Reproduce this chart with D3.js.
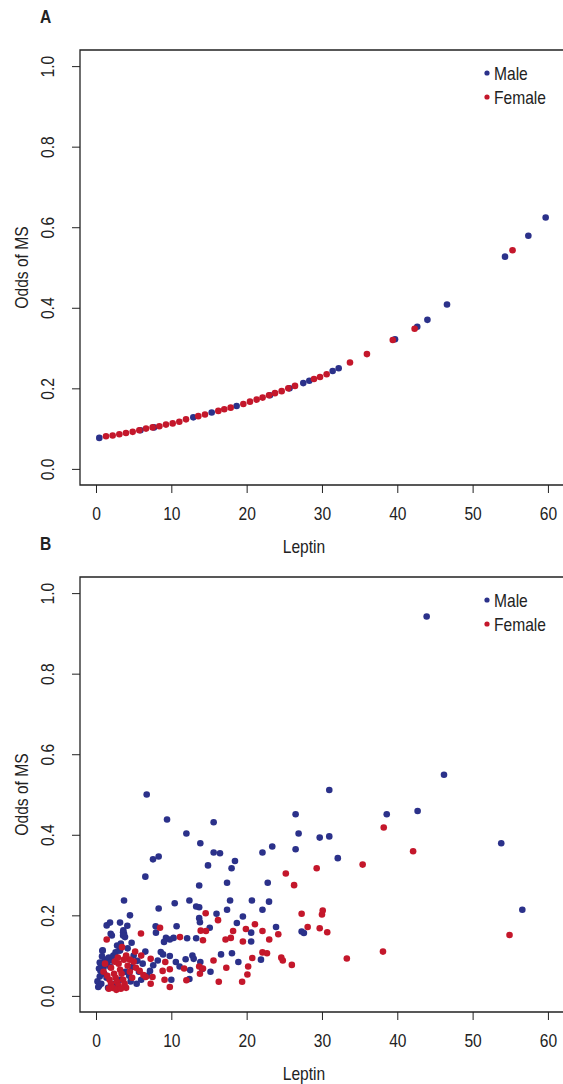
<!DOCTYPE html>
<html>
<head>
<meta charset="utf-8">
<script src="https://cdn.jsdelivr.net/npm/d3@7"></script>
<style>
  html, body { margin: 0; padding: 0; background: #fff; }
  svg { display: block; }
  text { font-family: "Liberation Sans", Arial, sans-serif; fill: #222; }
</style>
</head>
<body>
<div id="chart"></div>
<script>
// tick labels
const xTicks = [0, 10, 20, 30, 40, 50, 60];
const yTicks = [0, 0.2, 0.4, 0.6, 0.8, 1.0];
const groups = ["Male", "Female"];
const colors = ["#2b318a", "#c4172b"];

// panel A: predicted odds (leptin, odds)
const maleA = [[0.44,0.077],[5.9,0.096],[7.7,0.103],[12.92,0.128],[15.36,0.140],[18.67,0.156],[23.1,0.183],
  [25.7,0.200],[27.52,0.213],[28.32,0.219],[31.42,0.243],[32.22,0.250],[39.7,0.322],[42.65,0.353],
  [44.0,0.370],[46.6,0.408],[54.3,0.527],[57.4,0.579],[59.7,0.624]];
const femaleA = [[1.33,0.081],[2.21,0.083],[3.10,0.086],[3.98,0.089],[4.87,0.092],[5.75,0.096],[6.64,0.100],
  [7.52,0.103],[8.41,0.106],[9.29,0.110],[10.18,0.113],[11.06,0.117],[11.95,0.123],[13.58,0.131],
  [14.47,0.135],[16.24,0.144],[17.03,0.148],[17.88,0.152],[19.56,0.161],[20.44,0.167],[21.33,0.172],
  [22.12,0.177],[22.97,0.183],[23.76,0.188],[24.65,0.193],[25.53,0.200],[26.42,0.206],[28.94,0.223],
  [29.74,0.228],[30.62,0.235],[33.72,0.264],[35.97,0.285],[39.4,0.320],[42.3,0.348],[55.3,0.543]];

// panel B: observed odds (leptin, odds)
const maleB = [[43.9,0.942],[46.2,0.549],[6.73,0.500],[30.97,0.511],[9.43,0.438],[15.62,0.431],[26.5,0.451],
  [38.6,0.451],[42.7,0.459],[12.0,0.403],[26.9,0.403],[29.7,0.393],[30.97,0.396],[53.8,0.379],[13.85,0.379],
  [23.4,0.371],[15.62,0.356],[16.46,0.354],[22.1,0.356],[26.5,0.364],[32.1,0.342],[7.57,0.339],[8.32,0.346],
  [18.45,0.335],[14.87,0.324],[18.0,0.317],[6.55,0.296],[13.7,0.274],[17.4,0.281],[22.8,0.281],[12.4,0.237],
  [10.45,0.230],[8.32,0.217],[13.3,0.222],[13.7,0.220],[17.8,0.237],[20.7,0.237],[22.97,0.234],[17.4,0.214],
  [22.1,0.214],[56.6,0.214],[3.72,0.237],[4.51,0.200],[16.0,0.204],[19.5,0.197],[18.7,0.181],[1.42,0.175],
  [1.86,0.182],[3.19,0.182],[4.16,0.174],[3.63,0.163],[1.95,0.154],[3.72,0.154],[3.85,0.146],[7.92,0.173],
  [7.96,0.157],[10.7,0.173],[13.7,0.193],[13.8,0.183],[15.1,0.169],[20.6,0.157],[23.9,0.171],[27.3,0.160],
  [27.6,0.156],[9.29,0.144],[9.8,0.140],[10.3,0.144],[9.03,0.134],[12.1,0.143],[13.3,0.143],[20.6,0.135],
  [3.1,0.113],[0.84,0.112],[4.73,0.132],[6.55,0.110],[8.6,0.109],[8.9,0.103],[9.8,0.099],[10.6,0.084],
  [11.9,0.091],[12.8,0.100],[12.97,0.092],[13.85,0.084],[16.6,0.103],[18.05,0.106],[18.9,0.084],[21.9,0.090],
  [15.2,0.060],[14.1,0.067],[12.5,0.064],[12.4,0.042],[11.1,0.073],[10.0,0.040],[7.17,0.062],
  [0.44,0.026],[0.3,0.022],[0.5,0.048],[0.6,0.062],[0.7,0.075],[0.9,0.082],[1.0,0.070],[1.2,0.090],
  [1.3,0.078],[1.5,0.085],[1.7,0.095],[1.9,0.072],[2.1,0.088],[2.3,0.100],[0.8,0.098],[0.5,0.083],
  [0.4,0.068],[1.1,0.055],[1.4,0.045],[2.6,0.108],[2.1,0.150],[3.6,0.158],[3.6,0.150],[0.89,0.113],
  [3.19,0.113],[2.8,0.125],[3.3,0.130],[4.2,0.118],[5.0,0.100],[5.5,0.087],[6.2,0.080],[4.8,0.072],
  [3.9,0.060],[4.4,0.050],[5.7,0.060],[6.8,0.050],[2.5,0.030],[3.2,0.040],[4.6,0.036],[5.4,0.030],
  [6.0,0.040],[7.6,0.076],[8.2,0.088],[0.2,0.036],[1.6,0.020],[0.7,0.030]];
const femaleB = [[54.9,0.151],[38.2,0.418],[42.1,0.359],[35.4,0.326],[38.1,0.110],[33.3,0.093],[25.2,0.304],
  [29.3,0.317],[26.3,0.275],[30.1,0.212],[30.0,0.202],[30.7,0.158],[29.7,0.168],[27.3,0.204],[28.1,0.171],
  [14.56,0.205],[16.2,0.188],[21.1,0.178],[8.5,0.169],[5.97,0.155],[13.9,0.162],[14.6,0.161],[18.2,0.161],
  [19.9,0.166],[22.1,0.161],[23.0,0.140],[24.2,0.153],[11.15,0.146],[14.2,0.138],[17.2,0.140],[17.9,0.144],
  [19.5,0.135],[1.42,0.140],[3.45,0.121],[5.2,0.110],[6.0,0.100],[7.26,0.092],[9.2,0.084],[15.6,0.088],
  [20.75,0.094],[22.1,0.108],[22.7,0.106],[24.6,0.095],[24.8,0.088],[26.0,0.077],[17.3,0.070],[20.2,0.073],
  [20.1,0.053],[19.4,0.035],[16.3,0.035],[13.7,0.073],[14.2,0.068],[13.8,0.055],[11.7,0.068],[12.0,0.039],
  [9.8,0.066],[9.8,0.022],[9.1,0.040],[8.85,0.062],[6.6,0.047],[7.5,0.047],[7.26,0.030],
  [1.0,0.060],[1.5,0.050],[1.8,0.040],[2.0,0.030],[2.2,0.020],[2.4,0.055],[2.6,0.045],[2.8,0.035],
  [3.0,0.025],[3.2,0.065],[3.4,0.055],[3.6,0.040],[3.8,0.030],[4.0,0.020],[4.2,0.075],[4.5,0.060],
  [4.8,0.045],[5.0,0.085],[5.3,0.070],[2.0,0.070],[2.5,0.085],[3.0,0.080],[1.7,0.018],[2.7,0.015],
  [3.3,0.018],[4.5,0.090],[4.0,0.100],[5.8,0.062],[6.3,0.052],[1.2,0.080],[2.9,0.095],[3.7,0.090]];

const W = 563, H = 1084;
const svg = d3.select("#chart").append("svg")
    .attr("width", W)
    .attr("height", H);

const x = d3.scaleLinear().domain([-2.124, 62]).range([80, 563]);

// squeeze Liberation Sans into a narrow face, like the original's condensed type
const narrow = function(sel) {
    sel.each(function() {
        const len = this.getComputedTextLength();
        d3.select(this).attr("textLength", len * 0.82).attr("lengthAdjust", "spacingAndGlyphs");
    });
}

const drawPanel = function(letter, top, male, female) {
    const bottom = top + 435;
    const y = d3.scaleLinear().domain([-0.04, 1.04]).range([bottom, top]);
    const g = svg.append("g");

    // panel letter
    g.append("text").attr("x", 40).attr("y", top - 27)
        .style("font-weight", "bold").style("font-size", "19px").text(letter).call(narrow);

    // x axis
    g.append("g").attr("transform", `translate(0,${bottom})`)
        .call(d3.axisBottom(x).tickValues(xTicks).tickSize(8).tickPadding(14).tickSizeOuter(0))
        .call(a => a.select(".domain").remove())
        .call(a => a.selectAll("text").style("font-size", "19px").attr("fill", "#222")
            .style("font-family", "'Liberation Sans', sans-serif").call(narrow))
        .call(a => a.selectAll("line").attr("stroke", "#222"));

    // y axis, labels turned like R's default
    const ya = g.append("g").attr("transform", "translate(80,0)")
        .call(d3.axisLeft(y).tickValues(yTicks).tickSize(8).tickFormat(d3.format(".1f")).tickSizeOuter(0));
    ya.select(".domain").remove();
    ya.selectAll("line").attr("stroke", "#222");
    ya.selectAll("text")
        .attr("x", null).attr("dy", null)
        .attr("text-anchor", "middle")
        .attr("transform", "translate(-26,0) rotate(-90)")
        .attr("fill", "#222")
        .style("font-size", "19px")
        .style("font-family", "'Liberation Sans', sans-serif")
        .call(narrow);

    // box
    g.append("path")
        .attr("d", `M${W + 2},${top}H80V${bottom}H${W + 2}`)
        .attr("fill", "none").attr("stroke", "#222").attr("stroke-width", 1.3);

    // axis titles
    g.append("text").attr("x", 304).attr("y", bottom + 68)
        .attr("text-anchor", "middle").style("font-size", "19px").text("Leptin").call(narrow);
    g.append("text")
        .attr("transform", `translate(28,${y(0.5)}) rotate(-90)`)
        .attr("text-anchor", "middle").style("font-size", "19px").text("Odds of MS").call(narrow);

    // points
    [male, female].forEach((pts, i) => {
        g.append("g").selectAll("circle")
            .data(pts)
            .join("circle")
            .attr("cx", d => x(d[0]))
            .attr("cy", d => y(d[1]))
            .attr("r", 3.3)
            .attr("fill", colors[i]);
    });

    // legend
    const lg = g.append("g").attr("transform", `translate(487,${top + 23})`);
    groups.forEach((name, i) => {
        lg.append("circle").attr("cx", 0).attr("cy", i * 24).attr("r", 2.6).attr("fill", colors[i]);
        lg.append("text").attr("x", 7).attr("y", i * 24 + 7).style("font-size", "19px").text(name).call(narrow);
    });
}

drawPanel("A", 50, maleA, femaleA);
drawPanel("B", 577, maleB, femaleB);
</script>
</body>
</html>
